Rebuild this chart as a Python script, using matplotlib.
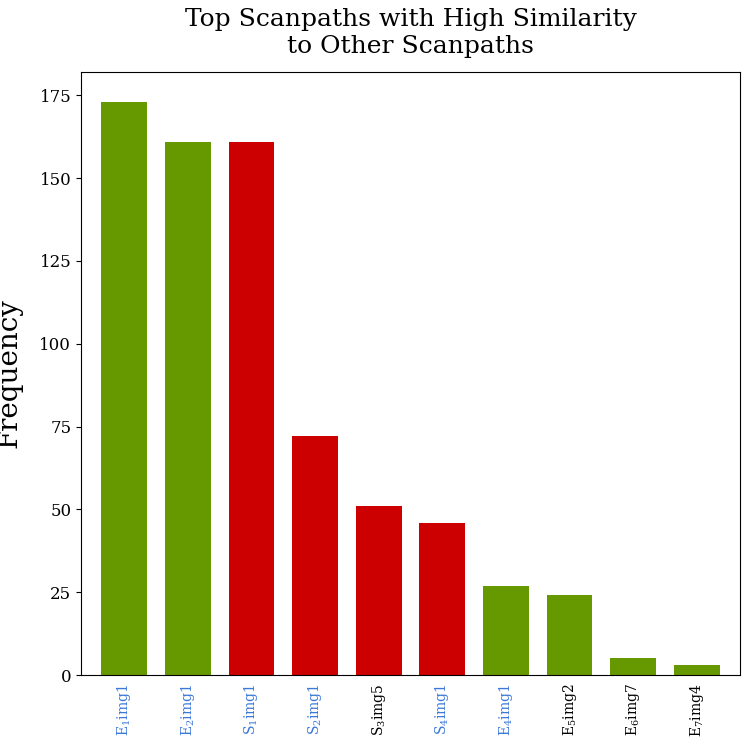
import matplotlib
matplotlib.use("Agg")
import matplotlib.pyplot as plt

labels = [r"E$_1$img1", r"E$_2$img1", r"S$_1$img1", r"S$_2$img1", r"S$_3$img5",
          r"S$_4$img1", r"E$_4$img1", r"E$_5$img2", r"E$_6$img7", r"E$_7$img4"]
values = [173, 161, 161, 72, 51, 46, 27, 24, 5, 3]
groups = ["E", "E", "S", "S", "S", "S", "E", "E", "E", "E"]
highlight = [True, True, True, True, False, True, True, False, False, False]

plt.rcParams["font.family"] = "DejaVu Serif"
plt.rcParams["mathtext.fontset"] = "dejavuserif"

colors = ["#669900" if g == "E" else "#cc0000" for g in groups]

fig = plt.figure(figsize=(7.44, 7.43), dpi=100)
ax = fig.add_axes([81/744, 68/743, 659/744, 603/743])
x = range(len(values))
ax.bar(x, values, width=0.72, color=colors)
ax.set_xlim(-0.68, 9.68)
ax.set_ylim(0, 182)
ax.set_yticks([0, 25, 50, 75, 100, 125, 150, 175])
ax.set_xticks(list(x))
ax.set_xticklabels(labels, rotation=90, fontsize=10)
for t, h in zip(ax.get_xticklabels(), highlight):
    t.set_color("#3a78d8" if h else "black")
ax.tick_params(axis="y", labelsize=12)
ax.tick_params(axis="x", length=0, pad=6)
ax.set_ylabel("Frequency", fontsize=20, labelpad=12)
ax.set_title("Top Scanpaths with High Similarity\nto Other Scanpaths", fontsize=18, pad=14)
fig.savefig("out.png", dpi=100)
